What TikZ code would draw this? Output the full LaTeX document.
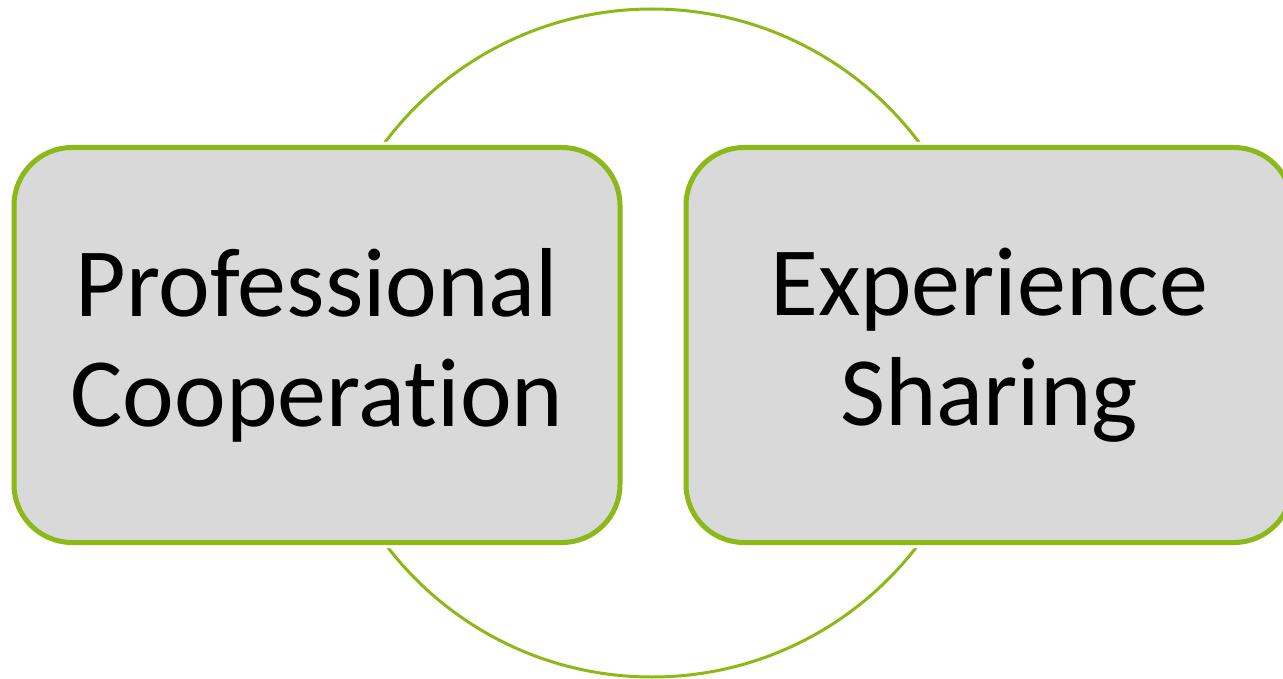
\documentclass[tikz,border=0pt]{standalone}
\usepackage{fontspec}
\setmainfont{Carlito}[Ligatures={NoCommon}]
\definecolor{ringgreen}{RGB}{140,184,24}
\definecolor{boxgray}{RGB}{217,217,217}
\tikzset{
  ring/.style={circle, draw=ringgreen, line width=3pt, minimum size=668pt, inner sep=0pt},
  box/.style={rectangle, rounded corners=58pt, draw=ringgreen, fill=boxgray, line width=5pt,
    preaction={draw=white, line width=11pt},
    minimum width=606pt, minimum height=395pt, inner sep=0pt,
    align=center, text=black, font=\fontsize{98}{110}\selectfont}
}
\begin{document}
\begin{tikzpicture}[x=1pt,y=-1pt]
\useasboundingbox (0,0) rectangle (1283,679);
\node[ring] (ring) at (652,343) {};
\node[box] (left) at (317,345) {Professional\\Cooperation};
\node[box] (right) at (989,345) {Experience\\Sharing};
\end{tikzpicture}
\end{document}
